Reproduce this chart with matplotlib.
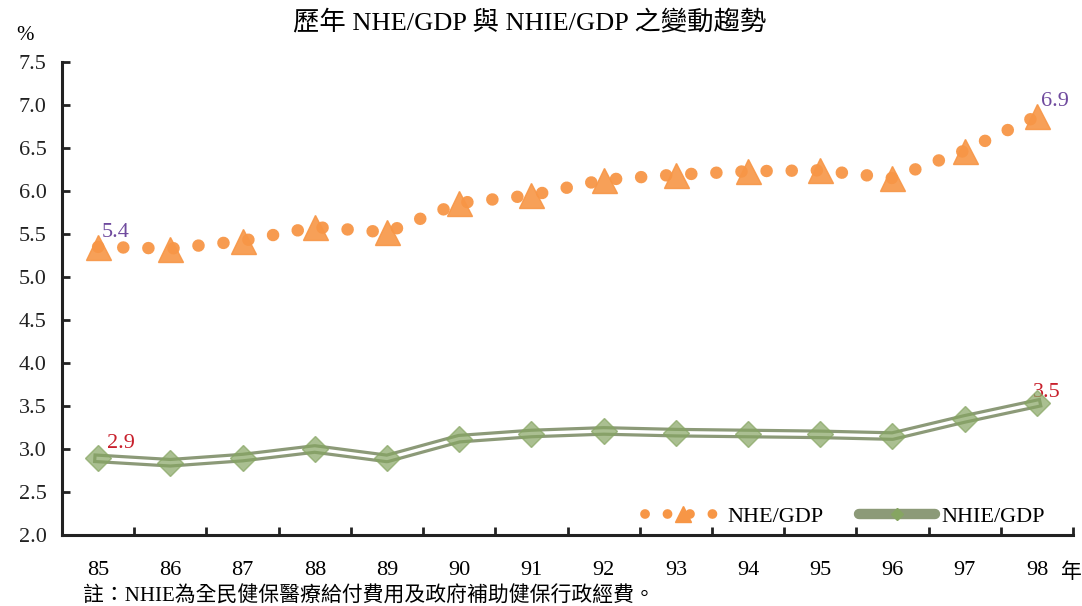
import matplotlib
matplotlib.use("Agg")
import matplotlib.pyplot as plt
from matplotlib.lines import Line2D

plt.rcParams['font.family'] = ['Liberation Serif', 'Noto Sans CJK TC']
plt.rcParams['axes.unicode_minus'] = False

# 資料
years = ['85', '86', '87', '88', '89', '90', '91', '92', '93', '94', '95', '96', '97', '98']
nhe_gdp = [5.35, 5.33, 5.42, 5.58, 5.52, 5.86, 5.95, 6.13, 6.19, 6.23, 6.24, 6.15, 6.47, 6.87]
nhie_gdp = [2.89, 2.84, 2.90, 3.00, 2.89, 3.12, 3.18, 3.21, 3.19, 3.18, 3.17, 3.15, 3.35, 3.53]
yticks = [2.0, 2.5, 3.0, 3.5, 4.0, 4.5, 5.0, 5.5, 6.0, 6.5, 7.0, 7.5]

orange = '#f79646'
olive = '#8c9a78'
green = '#86a562'

fig = plt.figure(figsize=(10.82, 6.06), dpi=100)
ax = fig.add_axes([0.0573, 0.1172, 0.9344, 0.7805])
x = list(range(len(years)))

# NHE/GDP 點線 + 三角形
ax.plot(x, nhe_gdp, color=orange, lw=9, linestyle=(0, (0.01, 2.0)),
        dash_capstyle='round', alpha=0.95, zorder=3)
ax.plot(x, nhe_gdp, linestyle='none', marker='^', ms=18, color=orange,
        mec=orange, alpha=0.9, zorder=4)

# NHIE/GDP 雙線 + 菱形
ax.plot(x, nhie_gdp, color=olive, lw=7, solid_joinstyle='round', zorder=3)
ax.plot(x, nhie_gdp, color='white', lw=2.4, solid_joinstyle='round', zorder=3.5)
ax.plot(x, nhie_gdp, linestyle='none', marker='D', ms=13, color=green,
        mec=green, alpha=0.7, zorder=4)

# 數值標籤
ax.text(0.05, nhe_gdp[0] + 0.06, '5.4', color='#6f4a9e', fontsize=16, ha='left', va='bottom')
ax.text(13.05, nhe_gdp[-1] + 0.06, '6.9', color='#6f4a9e', fontsize=16, ha='left', va='bottom')
ax.text(0.12, nhie_gdp[0] + 0.06, '2.9', color='#c8202c', fontsize=16, ha='left', va='bottom')
ax.text(12.95, nhie_gdp[-1] + 0.02, '3.5', color='#c8202c', fontsize=16, ha='left', va='bottom')

ax.set_xlim(-0.5, 13.5)
ax.set_ylim(2.0, 7.5)
ax.set_yticks(yticks)
ax.set_yticklabels(['%.1f' % v for v in yticks], fontsize=16)
ax.set_xticks([i + 0.5 for i in range(-1, 14)])
ax.set_xticklabels([])
ax.tick_params(axis='both', direction='in', length=6, width=2, colors='#222222')
ax.tick_params(axis='y', pad=11)
for s in ['top', 'right']:
    ax.spines[s].set_visible(False)
for s in ['left', 'bottom']:
    ax.spines[s].set_linewidth(2.2)
    ax.spines[s].set_color('#222222')

for i, yr in enumerate(years):
    ax.text(i, -0.075, yr, transform=ax.get_xaxis_transform(), ha='center', va='center',
            fontsize=16)
fig.text(1071 / 1082, 1 - 572 / 606, '年', ha='center', va='center', fontsize=15,
         family=['Noto Sans CJK TC'])
fig.text(25 / 1082, 1 - 35 / 606, '%', ha='center', va='center', fontsize=15)
fig.text(530 / 1082, 1 - 22 / 606, '歷年 NHE/GDP 與 NHIE/GDP 之變動趨勢', ha='center', va='center',
         fontsize=19, family=['Liberation Serif', 'Noto Sans CJK TC'])
fig.text(83 / 1082, 1 - 597 / 606, '註：NHIE為全民健保醫療給付費用及政府補助健保行政經費。',
         ha='left', va='center', fontsize=15, family=['Liberation Serif', 'Noto Sans CJK TC'])

# 圖例
h1 = Line2D([], [], color=orange, lw=7, linestyle=(0, (0.01, 2.3)), dash_capstyle='round',
            marker='^', ms=11, mec=orange)
h2 = Line2D([], [], color=olive, lw=7.5, solid_capstyle='round', marker='D', ms=6,
            mfc=green, mec=green)
ax.legend([h1, h2], ['NHE/GDP', 'NHIE/GDP'], loc='lower right', ncol=2, frameon=False,
          fontsize=16, handlelength=3.4, columnspacing=1.6, handletextpad=0.3,
          bbox_to_anchor=(0.992, -0.025))

fig.savefig('out.png', dpi=100)
